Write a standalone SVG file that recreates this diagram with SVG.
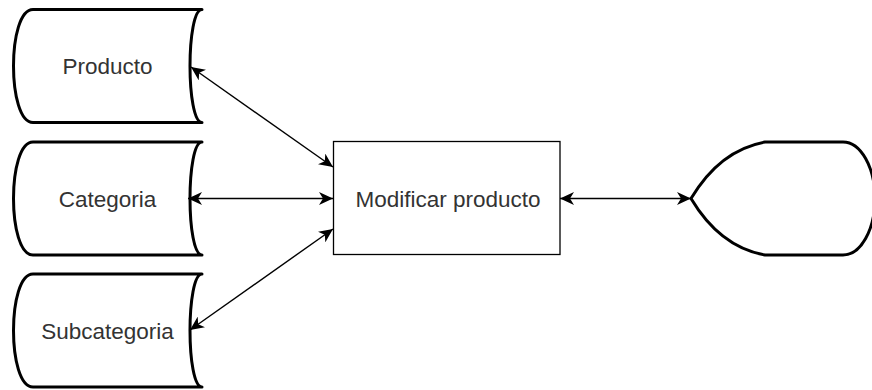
<svg xmlns="http://www.w3.org/2000/svg" width="872" height="390" viewBox="0 0 872 390">
  <style>
    .shape { fill: #ffffff; stroke: #000000; stroke-width: 3; stroke-linejoin: round; }
    .box { fill: #ffffff; stroke: #000000; stroke-width: 1.3; }
    .label { font-family: "Liberation Sans", Arial, sans-serif; font-size: 22.5px; fill: #333333; text-anchor: middle; }
    .conn { fill: none; stroke: #000000; stroke-width: 1.4; marker-start: url(#arrow); marker-end: url(#arrow); }
  </style>
  <defs>
    <marker id="arrow" viewBox="0 0 14 13" refX="14" refY="6.5" markerWidth="14" markerHeight="13" markerUnits="userSpaceOnUse" orient="auto-start-reverse">
      <path d="M0,0 L14,6.5 L0,13 L4,6.5 Z" fill="#000000"/>
    </marker>
  </defs>
  <rect width="872" height="390" fill="#ffffff"/>

  <g id="producto">
    <path class="shape" d="M33,9.5 L202,9.5 C186,9.5 186,122.5 202,122.5 L33,122.5 C7,122.5 7,9.5 33,9.5 Z"/>
    <text class="label" x="107.5" y="74">Producto</text>
  </g>
  <g id="categoria">
    <path class="shape" d="M33,142 L202,142 C186,142 186,255 202,255 L33,255 C7,255 7,142 33,142 Z"/>
    <text class="label" x="107.5" y="206.5">Categoria</text>
  </g>
  <g id="subcategoria">
    <path class="shape" d="M33,274 L202,274 C186,274 186,387 202,387 L33,387 C7,387 7,274 33,274 Z"/>
    <text class="label" x="107.5" y="339">Subcategoria</text>
  </g>
  <g id="modificar">
    <rect class="box" x="333.5" y="141.5" width="226.5" height="113"/>
    <text class="label" x="448" y="206.5">Modificar producto</text>
  </g>
  <g id="display">
    <path class="shape" d="M691,198.5 Q720,150 765,142 L843,142 A32,56.5 0 0 1 843,255 L765,255 Q720,247 691,198.5 Z"/>
  </g>

  <g id="connectors">
    <line class="conn" x1="191" y1="67" x2="333" y2="167"/>
    <line class="conn" x1="188" y1="198.5" x2="333" y2="198.5"/>
    <line class="conn" x1="190" y1="330" x2="333" y2="229"/>
    <line class="conn" x1="560" y1="198.5" x2="691" y2="198.5"/>
  </g>
</svg>
